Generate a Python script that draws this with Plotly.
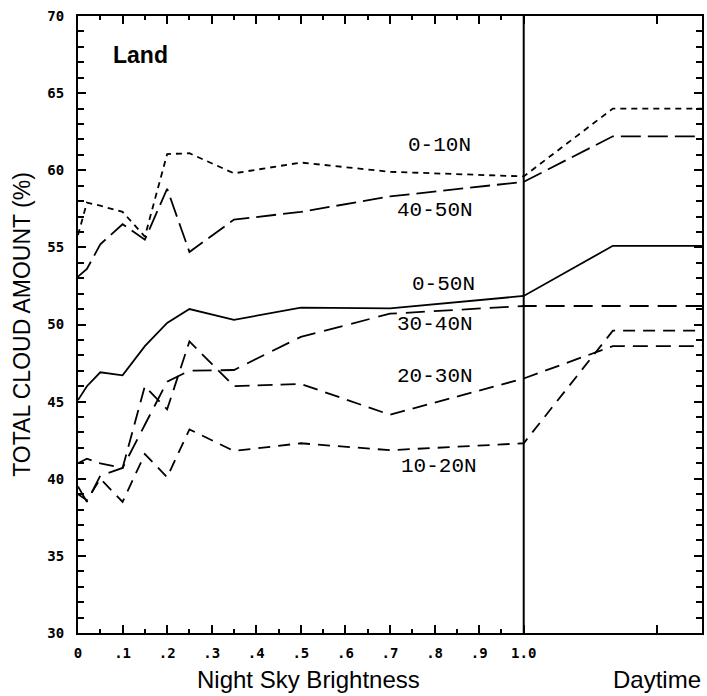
import plotly.graph_objects as go

# ---- data ----
brightness = [0, 0.02, 0.05, 0.1, 0.15, 0.2, 0.25, 0.35, 0.5, 0.7, 1.0, 1.2, 1.4]

cloud_0_10N = [55.8, 57.9, 57.7, 57.3, 55.7, 61.05, 61.1, 59.8, 60.5, 59.9, 59.6, 64.0, 64.0]
cloud_40_50N = [53.1, 53.6, 55.2, 56.5, 55.5, 58.8, 54.7, 56.8, 57.3, 58.3, 59.25, 62.2, 62.2]
cloud_0_50N = [45.1, 46.0, 46.9, 46.7, 48.6, 50.1, 51.0, 50.3, 51.1, 51.05, 51.85, 55.1, 55.1]
cloud_30_40N = [39.5, 38.5, 40.2, 40.7, 43.5, 46.3, 47.0, 47.05, 49.2, 50.7, 51.2, 51.2, 51.2]
cloud_20_30N = [41.0, 41.3, 41.0, 40.7, 46.0, 44.5, 48.9, 46.0, 46.15, 44.15, 46.5, 48.6, 48.6]
cloud_10_20N = [39.0, 38.6, 40.0, 38.5, 41.6, 40.1, 43.2, 41.8, 42.3, 41.85, 42.3, 49.6, 49.6]

series_names = ["0-10N", "40-50N", "0-50N", "30-40N", "20-30N", "10-20N"]
series_values = [cloud_0_10N, cloud_40_50N, cloud_0_50N, cloud_30_40N, cloud_20_30N, cloud_10_20N]

x_tick_vals = [0, 0.1, 0.2, 0.3, 0.4, 0.5, 0.6, 0.7, 0.8, 0.9, 1.0, 1.3]
x_tick_text = ["0", ".1", ".2", ".3", ".4", ".5", ".6", ".7", ".8", ".9", "1.0", ""]
x_minor_vals = [0.05, 0.15, 0.25, 0.35, 0.45, 0.55, 0.65, 0.75, 0.85, 0.95]
y_tick_vals = [30, 35, 40, 45, 50, 55, 60, 65, 70]

# ---- styling ----
dashes = {
    "0-10N": "6px,5px",
    "40-50N": "20px,7px",
    "0-50N": "solid",
    "30-40N": "19px,9px",
    "20-30N": "15px,8px",
    "10-20N": "12px,8px",
}
label_pos = {
    "0-10N": (0.81, 61.6),
    "40-50N": (0.80, 57.4),
    "0-50N": (0.82, 52.6),
    "30-40N": (0.80, 50.0),
    "20-30N": (0.80, 46.6),
    "10-20N": (0.81, 40.8),
}

fig = go.Figure()
for name, vals in zip(series_names, series_values):
    fig.add_trace(go.Scatter(
        x=brightness, y=vals, mode="lines", name=name,
        line=dict(color="black", width=1.8, dash=dashes[name]),
        showlegend=False,
    ))
    lx, ly = label_pos[name]
    fig.add_annotation(x=lx, y=ly, text=name, showarrow=False,
                       xanchor="center", yanchor="middle",
                       font=dict(family="Liberation Mono", size=21, color="black"))

fig.add_vline(x=1.0, line=dict(color="black", width=2))

fig.add_annotation(x=0.141, y=67.5, text="<b>Land</b>", showarrow=False,
                   xanchor="center", yanchor="middle",
                   font=dict(family="Liberation Sans", size=23, color="black"))
fig.add_annotation(xref="paper", yref="paper", x=0.37, y=-0.075,
                   text="Night Sky Brightness", showarrow=False,
                   xanchor="center", yanchor="middle",
                   font=dict(family="Liberation Sans", size=24, color="black"))
fig.add_annotation(x=1.3, yref="paper", y=-0.075,
                   text="Daytime", showarrow=False,
                   xanchor="center", yanchor="middle",
                   font=dict(family="Liberation Sans", size=24, color="black"))

tickfont = dict(family="DejaVu Sans Mono", size=14, color="black", weight="bold")

fig.update_layout(
    width=707, height=696,
    margin=dict(l=78, r=3, t=16, b=63),
    paper_bgcolor="white", plot_bgcolor="white",
    xaxis=dict(
        range=[0, 1.4], showgrid=False, zeroline=False,
        showline=True, linecolor="black", linewidth=2, mirror="ticks",
        ticks="inside", ticklen=8, tickwidth=1.5, tickcolor="black",
        tickmode="array", tickvals=x_tick_vals, ticktext=x_tick_text,
        tickfont=tickfont, ticklabelstandoff=6,
        minor=dict(tickmode="array", tickvals=x_minor_vals, ticks="inside",
                   ticklen=4, tickwidth=1.5, tickcolor="black", showgrid=False),
    ),
    yaxis=dict(
        range=[30, 70], showgrid=False, zeroline=False,
        showline=True, linecolor="black", linewidth=2, mirror="ticks",
        ticks="inside", ticklen=8, tickwidth=1.5, tickcolor="black",
        tickmode="array", tickvals=y_tick_vals,
        tickfont=tickfont, ticklabelstandoff=9,
        minor=dict(dtick=1, ticks="inside", ticklen=6, tickwidth=1.5,
                   tickcolor="black", showgrid=False),
        title=dict(text="TOTAL CLOUD AMOUNT (%)", standoff=10,
                   font=dict(family="Liberation Sans", size=23, color="black")),
    ),
)

fig.write_html("out.html", config={"displayModeBar": False},
               post_script="document.body.style.margin='0';document.body.style.overflow='hidden';")
